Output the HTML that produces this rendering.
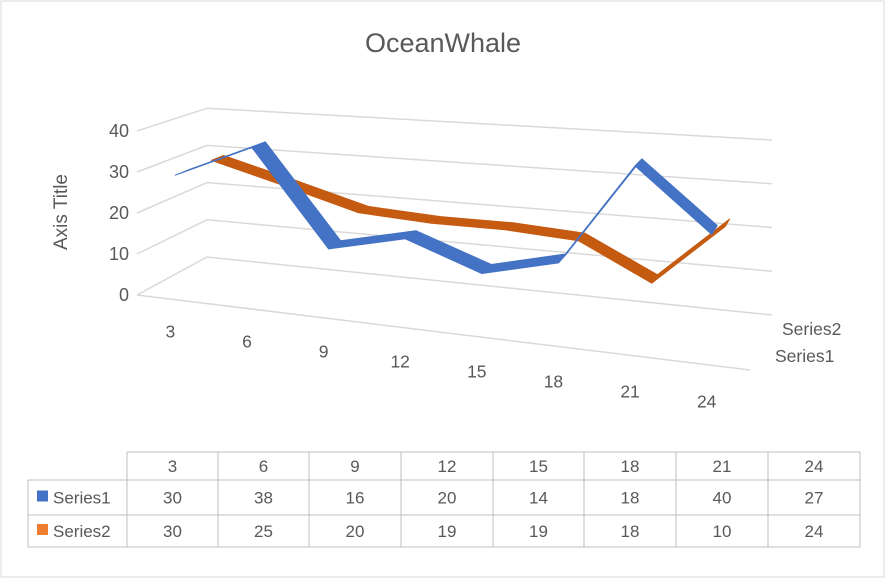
<!DOCTYPE html>
<html><head><meta charset="utf-8"><style>
body{margin:0;background:#fff;font-family:"Liberation Sans",sans-serif;}
svg{display:block}
text{font-family:"Liberation Sans",sans-serif;fill:#595959}
</style></head><body>
<svg id="chart" width="886" height="579">
<rect x="1" y="1" width="883" height="576" fill="#fff" stroke="#d9d9d9"/>
<text x="443" y="52" font-size="27" text-anchor="middle">OceanWhale</text>
<text transform="translate(67,212) rotate(-90)" font-size="19" text-anchor="middle">Axis Title</text>
<g id="grid"></g><g id="ylabels"></g><g id="xlabels"></g><g id="series"></g><g id="table"></g>
</svg>
<script>
const categories=["3","6","9","12","15","18","21","24"];
const series1=[30,38,16,20,14,18,40,27];
const series2=[30,25,20,19,19,18,10,24];
const yTicks=[0,10,20,30,40];
const seriesNames=["Series1","Series2"];
const NS="http://www.w3.org/2000/svg";
function mk(tag,attrs,parent){const e=document.createElementNS(NS,tag);for(const k in attrs)e.setAttribute(k,attrs[k]);parent.appendChild(e);return e;}
function lerp(a,b,t){return a+(b-a)*t;}
function proj(f,d,v){
  const bx=lerp(207,772,f), by=lerp(257,315,f);
  const fx=lerp(137,750,f), fy=lerp(295,370,f);
  const x=lerp(bx,fx,d), y=lerp(by,fy,d);
  const hs=lerp(lerp(3.72,4.375,f),lerp(4.1,4.9,f),d);
  return [x,y-v*hs];
}
const grid=document.getElementById('grid');
yTicks.forEach(t=>{
  const a=proj(0,1,t),b=proj(0,0,t),c=proj(1,0,t);
  const p=mk('polyline',{points:`${a[0]},${a[1]} ${b[0]},${b[1]} ${c[0]},${c[1]}`,fill:'none',stroke:'#d9d9d9','stroke-width':1.5},grid);
  
  
  const l=mk('text',{x:a[0]-8,y:a[1]+6,'font-size':18,'text-anchor':'end'},document.getElementById('ylabels'));
  l.textContent=t;
  
  
});
{const a=proj(0,1,0),b=proj(1,1,0);
const fl=mk('line',{x1:a[0],y1:a[1],x2:b[0],y2:b[1],stroke:'#d9d9d9','stroke-width':1.5},grid);

}
const n=categories.length;
categories.forEach((c,i)=>{
  const p=proj((i+0.5)/n,1,0);
  const t=mk('text',{x:p[0]-5,y:p[1]+38+i*0.6,'font-size':17.5,'text-anchor':'middle'},document.getElementById('xlabels'));
  t.textContent=c;
  
  
});
const s2l=mk('text',{x:782,y:335,'font-size':17.5},grid);s2l.textContent='Series2';


const s1l=mk('text',{x:775,y:362,'font-size':17.5},grid);s1l.textContent='Series1';


function ribbon(vals,d0,d1,color,name){
  const g=mk('g',{},document.getElementById('series'));
  
  
  for(let i=0;i<vals.length-1;i++){
    const f0=(i+0.5)/n,f1=(i+1.5)/n;
    const a=proj(f0,d0,vals[i]),b=proj(f1,d0,vals[i+1]),c=proj(f1,d1,vals[i+1]),e=proj(f0,d1,vals[i]);
    const p=mk('polygon',{points:[a,b,c,e].map(q=>q.join(',')).join(' '),fill:color,stroke:color,'stroke-width':1,'stroke-linejoin':'round'},g);
    
    
  }
}
ribbon(series2,0.28,0.46,'#c55a11',"series2-ribbon");
ribbon(series1,0.78,1.0,'#4472c4',"series1-ribbon");
const tb=document.getElementById('table');
const cols=[127,218,309,401,493,584,676,768,860];
const rows=[452,480,515,547];
const lc='#bfbfbf';
mk('line',{x1:127,y1:452,x2:860,y2:452,stroke:lc},tb);
mk('line',{x1:28,y1:480,x2:860,y2:480,stroke:lc},tb);
mk('line',{x1:28,y1:515,x2:860,y2:515,stroke:lc},tb);
mk('line',{x1:28,y1:547,x2:860,y2:547,stroke:lc},tb);
mk('line',{x1:28,y1:480,x2:28,y2:547,stroke:lc},tb);
cols.forEach(x=>mk('line',{x1:x,y1:452,x2:x,y2:547,stroke:lc},tb));
const data=[series1,series2];const colors=['#4472c4','#ed7d31'];
categories.forEach((c,i)=>{
  const t=mk('text',{x:(cols[i]+cols[i+1])/2,y:472,'font-size':17,'text-anchor':'middle'},tb);t.textContent=c;
  
  
});
data.forEach((s,r)=>{
  const y=(rows[r+1]+rows[r+2])/2+6;
  const sq=mk('rect',{x:37,y:y-13,width:11,height:11,fill:colors[r]},tb);
  
  
  const nm=mk('text',{x:53,y:y,'font-size':17},tb);nm.textContent=seriesNames[r];
  
  
  s.forEach((v,i)=>{
    const t=mk('text',{x:(cols[i]+cols[i+1])/2,y:y,'font-size':17,'text-anchor':'middle'},tb);t.textContent=v;
    
    
  });
});
</script>
</body></html>
